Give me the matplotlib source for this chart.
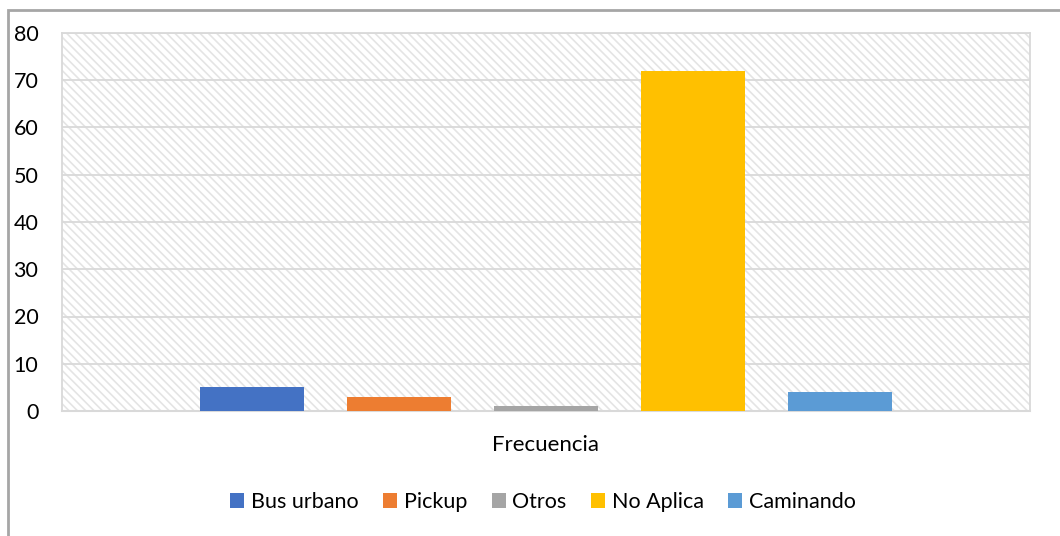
import matplotlib
matplotlib.use("Agg")
import matplotlib.pyplot as plt
from matplotlib.patches import Rectangle
import numpy as np

categoria = ["Frecuencia"]
series = ["Bus urbano", "Pickup", "Otros", "No Aplica", "Caminando"]
valores = [5, 3, 1, 72, 4]
colores = ["#4472C4", "#ED7D31", "#A5A5A5", "#FFC000", "#5B9BD5"]

plt.rcParams["font.family"] = ["Lato", "DejaVu Sans"]
plt.rcParams["hatch.color"] = "#e4e4e4"
plt.rcParams["hatch.linewidth"] = 1.2

fig = plt.figure(figsize=(10.6, 5.36), dpi=100)
ax = fig.add_axes([62 / 1060, 1 - 411 / 536, (1030 - 62) / 1060, (411 - 33) / 536])

# outer chart frame (right/bottom edges fall outside the picture)
fig.patches.append(Rectangle((8 / 1060, -0.1), 1.2, 1 - 10 / 536 + 0.1,
                             transform=fig.transFigure, fill=False,
                             edgecolor="#a6a6a6", linewidth=2))

# patterned plot area
ax.add_patch(Rectangle((0, 0), 1, 1, transform=ax.transAxes, facecolor="white",
                       hatch="\\\\\\\\", edgecolor="#e4e4e4", linewidth=0, zorder=0))

paso = 147 / 968
ancho = 104 / 968
x = np.arange(len(series)) - (len(series) - 1) / 2
for i, (s, v, c) in enumerate(zip(series, valores, colores)):
    ax.bar(x[i] * paso, v, width=ancho, color=c, label=s, zorder=3)

ax.set_xlim(-0.5, 0.5)
ax.set_ylim(0, 80)
ax.set_yticks(range(0, 81, 10))
ax.yaxis.grid(True, color="#d9d9d9", linewidth=1.3, zorder=1)
ax.set_axisbelow(False)
ax.tick_params(axis="y", length=0, labelsize=15.5, pad=17)
ax.set_xticks([0])
ax.set_xticklabels(categoria, fontsize=16)
ax.tick_params(axis="x", length=0, pad=17)
for sp in ["top", "right", "left"]:
    ax.spines[sp].set_color("#d9d9d9")
    ax.spines[sp].set_linewidth(1.3)
ax.spines["bottom"].set_color("#d9d9d9")
ax.spines["bottom"].set_linewidth(1.5)

fig.legend(loc="center", bbox_to_anchor=(543 / 1060, 1 - 502 / 536), ncol=5,
           frameon=False, fontsize=15.5, handlelength=0.65, handleheight=0.65,
           handletextpad=0.3, columnspacing=1.15)

fig.savefig("out.png", dpi=100)
